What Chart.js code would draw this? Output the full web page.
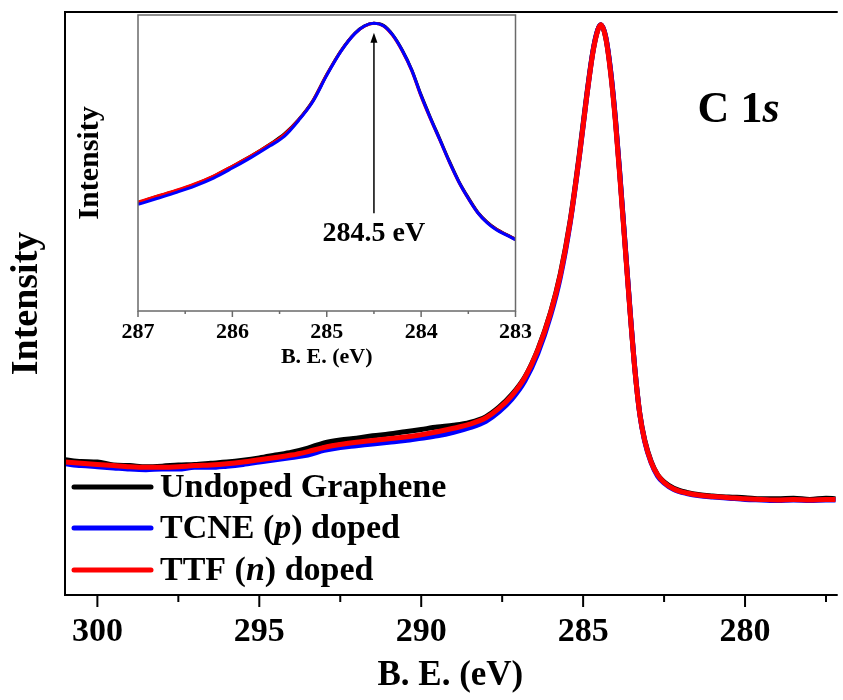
<!DOCTYPE html>
<html>
<head>
<meta charset="utf-8">
<script src="https://cdn.jsdelivr.net/npm/chart.js@4"></script>
<style>
  html, body { margin: 0; padding: 0; background: #fff; overflow: hidden; }
  #wrap { position: relative; width: 843px; height: 700px; }
  #mainChart { position: absolute; left: 0; top: 0; }
  #insetChart { position: absolute; left: 70px; top: 0; }
</style>
</head>
<body>
<div id="wrap">
  <canvas id="mainChart" width="843" height="700"></canvas>
  <canvas id="insetChart" width="470" height="375"></canvas>
</div>
<script>
// 主圖數據 (B. E. eV)
const beMain = [301.0, 300.5, 300.0, 299.5, 299.0, 298.5, 298.0, 297.5, 297.0, 296.5,
  296.0, 295.5, 295.0, 294.5, 294.0, 293.5, 293.0, 292.5, 292.0, 291.5,
  291.0, 290.5, 290.0, 289.5, 289.0, 288.5, 288.0, 287.6, 287.2, 286.8,
  286.4, 286.0, 285.7, 285.4, 285.1, 284.9, 284.7, 284.55, 284.45, 284.3,
  284.15, 284.0, 283.85, 283.7, 283.55, 283.4, 283.25, 283.1, 282.9, 282.7,
  282.5, 282.2, 281.8, 281.4, 281.0, 280.5, 280.0, 279.5, 279.0, 278.5,
  278.0, 277.5, 277.2];

const undopedMain = [23.2, 22.9, 22.8, 22.3, 22.2, 22.0, 22.1, 22.3, 22.4, 22.6,
  22.8, 23.1, 23.5, 24.0, 24.5, 25.2, 26.1, 26.6, 26.9, 27.3,
  27.6, 28.0, 28.4, 28.8, 29.1, 29.6, 30.6, 32.2, 34.4, 37.4,
  42.1, 48.6, 55.2, 64.2, 76.3, 85.3, 93.2, 96.9, 97.8, 95.6,
  89.8, 81.4, 70.9, 59.8, 48.7, 38.6, 31.1, 26.6, 22.9, 20.6,
  19.4, 18.3, 17.6, 17.2, 17.0, 16.8, 16.7, 16.5, 16.5, 16.6,
  16.4, 16.6, 16.5];

const tcneMain = [22.5, 22.2, 22.0, 21.8, 21.6, 21.5, 21.6, 21.6, 21.9, 21.9,
  22.1, 22.4, 22.8, 23.2, 23.6, 24.0, 24.8, 25.3, 25.6, 25.9,
  26.2, 26.5, 26.9, 27.3, 27.9, 28.7, 29.8, 31.4, 33.6, 36.7,
  41.4, 48.0, 54.6, 63.8, 75.9, 85.0, 93.1, 96.9, 97.8, 95.7,
  89.9, 81.5, 71.0, 59.9, 48.8, 38.7, 31.0, 26.4, 22.7, 20.4,
  19.2, 18.1, 17.4, 17.0, 16.8, 16.6, 16.4, 16.3, 16.2, 16.3,
  16.2, 16.3, 16.3];

const ttfMain = [22.8, 22.6, 22.4, 22.2, 22.0, 21.9, 21.9, 22.0, 22.2, 22.3,
  22.5, 22.8, 23.2, 23.6, 24.0, 24.6, 25.3, 25.8, 26.2, 26.5,
  26.8, 27.1, 27.5, 28.0, 28.6, 29.3, 30.4, 32.0, 34.2, 37.3,
  42.0, 48.5, 55.0, 64.0, 76.0, 85.0, 93.0, 96.8, 97.8, 95.5,
  89.5, 81.0, 70.5, 59.5, 48.5, 38.5, 31.0, 26.5, 22.8, 20.6,
  19.3, 18.2, 17.5, 17.1, 16.9, 16.7, 16.5, 16.4, 16.3, 16.4,
  16.3, 16.4, 16.4];

// 插圖數據
const beInset = [287.0, 286.8, 286.6, 286.4, 286.2, 286.0, 285.8, 285.6, 285.45, 285.3,
  285.15, 285.0, 284.85, 284.7, 284.6, 284.5, 284.4, 284.3, 284.2, 284.1,
  284.0, 283.9, 283.8, 283.7, 283.6, 283.5, 283.4, 283.3, 283.2, 283.1, 283.0];

const undopedInset = [36.6, 38.7, 40.6, 42.8, 45.5, 48.9, 52.4, 56.4, 59.8, 64.6,
  70.9, 79.9, 87.9, 93.9, 96.3, 97.2, 96.5, 93.3, 88.2, 81.6,
  73.0, 65.3, 58.0, 50.6, 43.8, 38.3, 33.4, 30.0, 27.6, 25.9, 24.3];

const ttfInset = [36.8, 38.8, 40.7, 42.9, 45.6, 48.9, 52.4, 56.3, 59.6, 64.5,
  70.8, 79.8, 87.8, 93.8, 96.2, 97.2, 96.3, 93.0, 87.8, 81.2,
  72.5, 64.8, 57.6, 50.2, 43.5, 38.0, 33.2, 29.9, 27.5, 25.8, 24.2];

const tcneInset = [36.0, 38.0, 40.0, 42.2, 44.9, 48.3, 51.9, 55.8, 59.0, 64.3,
  70.6, 79.6, 87.7, 93.8, 96.3, 97.2, 96.4, 93.2, 88.0, 81.4,
  72.7, 65.0, 57.7, 50.3, 43.6, 38.0, 33.2, 29.8, 27.4, 25.7, 24.1];

// 標註
const seriesLabels = ['Undoped Graphene', 'TCNE (p) doped', 'TTF (n) doped'];
const seriesColors = ['#000000', '#0000ff', '#ff0000'];
const peakBE = 284.5;
const peakArrow = [33, 94];     // 箭頭起止 (插圖 y 值)
const peakLabelY = 26;
const coreLabelPos = [280.2, 83];

const SERIF = "'Liberation Serif', 'Times New Roman', serif";
Chart.defaults.font.family = SERIF;
Chart.defaults.color = '#000';

function toPoints(xs, ys) {
    return xs.map((x, i) => ({ x: x, y: ys[i] }));
}

function isStep(v, step) {
    const r = v / step;
    return Math.abs(r - Math.round(r)) < 1e-6;
}

// 繪製帶斜體的文字, 例如 "(p)" 中的 p
function drawMixedText(ctx, text, x, y, size) {
    const parts = text.split(/(\([a-z]\))/).filter(p => p !== '');
    let cx = x;
    parts.forEach(p => {
        const m = p.match(/^\(([a-z])\)$/);
        if (m) {
            const seq = [['(', false], [m[1], true], [')', false]];
            seq.forEach(([s, it]) => {
                ctx.font = (it ? 'italic ' : '') + 'bold ' + size + 'px ' + SERIF;
                ctx.fillText(s, cx, y);
                cx += ctx.measureText(s).width;
            });
        } else {
            ctx.font = 'bold ' + size + 'px ' + SERIF;
            ctx.fillText(p, cx, y);
            cx += ctx.measureText(p).width;
        }
    });
}

// 主圖: 外框、刻度、圖例、標籤
const mainDecor = {
    id: 'mainDecor',
    afterDraw(chart) {
        const { ctx, chartArea: a, scales: { x, y } } = chart;
        ctx.save();
        ctx.strokeStyle = '#000';
        ctx.lineWidth = 2;
        ctx.beginPath();
        ctx.moveTo(a.right + 2, a.top);
        ctx.lineTo(a.left, a.top);
        ctx.lineTo(a.left, a.bottom);
        ctx.lineTo(a.right + 2, a.bottom);
        ctx.stroke();

        x.ticks.forEach(t => {
            const px = x.getPixelForValue(t.value);
            const len = isStep(t.value, 5) ? 12 : 7;
            ctx.beginPath();
            ctx.moveTo(px, a.bottom);
            ctx.lineTo(px, a.bottom + len);
            ctx.stroke();
        });

        // 圖例
        const rows = [108, 67, 25];
        ctx.textBaseline = 'middle';
        ctx.textAlign = 'left';
        seriesLabels.forEach((label, i) => {
            const yy = a.bottom - rows[i];
            ctx.strokeStyle = seriesColors[i];
            ctx.lineWidth = 5;
            ctx.lineCap = 'round';
            ctx.beginPath();
            ctx.moveTo(a.left + 9, yy);
            ctx.lineTo(a.left + 86, yy);
            ctx.stroke();
            ctx.fillStyle = '#000';
            drawMixedText(ctx, label, a.left + 95, yy + 1, 34);
        });

        // C 1s
        const cx = x.getPixelForValue(coreLabelPos[0]);
        const cy = y.getPixelForValue(coreLabelPos[1]);
        ctx.font = 'bold 44px ' + SERIF;
        const w1 = ctx.measureText('C 1').width;
        ctx.font = 'italic bold 44px ' + SERIF;
        const w2 = ctx.measureText('s').width;
        const sx = cx - (w1 + w2) / 2;
        ctx.font = 'bold 44px ' + SERIF;
        ctx.fillText('C 1', sx, cy);
        ctx.font = 'italic bold 44px ' + SERIF;
        ctx.fillText('s', sx + w1, cy);
        ctx.restore();
    }
};

// 插圖: 外框、刻度、箭頭
const insetDecor = {
    id: 'insetDecor',
    afterDraw(chart) {
        const { ctx, chartArea: a, scales: { x, y } } = chart;
        ctx.save();
        ctx.strokeStyle = '#6a6a6a';
        ctx.lineWidth = 1.5;
        ctx.strokeRect(a.left, a.top, a.right - a.left, a.bottom - a.top);
        x.ticks.forEach(t => {
            const px = x.getPixelForValue(t.value);
            const len = isStep(t.value, 1) ? 6 : 3;
            ctx.beginPath();
            ctx.moveTo(px, a.bottom);
            ctx.lineTo(px, a.bottom + len);
            ctx.stroke();
        });

        const ax = x.getPixelForValue(peakBE);
        const y0 = y.getPixelForValue(peakArrow[0]);
        const y1 = y.getPixelForValue(peakArrow[1]);
        ctx.strokeStyle = '#000';
        ctx.fillStyle = '#000';
        ctx.lineWidth = 1.5;
        ctx.beginPath();
        ctx.moveTo(ax, y0);
        ctx.lineTo(ax, y1 + 6);
        ctx.stroke();
        ctx.beginPath();
        ctx.moveTo(ax, y1);
        ctx.lineTo(ax - 3.5, y1 + 10);
        ctx.lineTo(ax + 3.5, y1 + 10);
        ctx.closePath();
        ctx.fill();

        ctx.font = 'bold 28px ' + SERIF;
        ctx.textAlign = 'center';
        ctx.textBaseline = 'middle';
        ctx.fillText(peakBE + ' eV', ax, y.getPixelForValue(peakLabelY));
        ctx.restore();
    }
};

function lineSet(label, pts, color, width) {
    return {
        label: label,
        data: pts,
        borderColor: color,
        backgroundColor: color,
        borderWidth: width,
        pointRadius: 0,
        cubicInterpolationMode: 'monotone',
        fill: false
    };
}

// Chart.js 先畫後面的數據集, 所以最上層的放第一個
new Chart(document.getElementById('mainChart').getContext('2d'), {
    type: 'line',
    data: {
        datasets: [
            lineSet(seriesLabels[2], toPoints(beMain, ttfMain), seriesColors[2], 5),
            lineSet(seriesLabels[1], toPoints(beMain, tcneMain), seriesColors[1], 5),
            lineSet(seriesLabels[0], toPoints(beMain, undopedMain), seriesColors[0], 5)
        ]
    },
    options: {
        responsive: false,
        animation: false,
        devicePixelRatio: 1,
        layout: { padding: { top: 12, left: 0, right: 0, bottom: 0 } },
        plugins: { legend: { display: false }, tooltip: { enabled: false } },
        scales: {
            x: {
                type: 'linear',
                reverse: true,
                min: 277.2,
                max: 301,
                grid: { display: false, drawTicks: false },
                border: { display: false },
                ticks: {
                    stepSize: 2.5,
                    includeBounds: false,
                    autoSkip: false,
                    maxRotation: 0,
                    padding: 17,
                    font: { size: 34, weight: 'bold' },
                    callback: v => (isStep(v, 5) ? String(v) : '')
                },
                title: {
                    display: true,
                    text: 'B. E. (eV)',
                    font: { size: 35, weight: 'bold' },
                    padding: { top: 0, bottom: 3 }
                },
                afterFit: s => { s.height = 105; }
            },
            y: {
                min: 0,
                max: 100,
                grid: { display: false },
                border: { display: false },
                ticks: { display: false },
                title: {
                    display: true,
                    text: 'Intensity',
                    font: { size: 38, weight: 'bold' },
                    padding: { top: 4, bottom: 0 }
                },
                afterFit: s => { s.width = 65; }
            }
        }
    },
    plugins: [mainDecor]
});

new Chart(document.getElementById('insetChart').getContext('2d'), {
    type: 'line',
    data: {
        datasets: [
            lineSet(seriesLabels[1], toPoints(beInset, tcneInset), seriesColors[1], 3),
            lineSet(seriesLabels[2], toPoints(beInset, ttfInset), seriesColors[2], 3),
            lineSet(seriesLabels[0], toPoints(beInset, undopedInset), seriesColors[0], 3)
        ]
    },
    options: {
        responsive: false,
        animation: false,
        devicePixelRatio: 1,
        layout: { padding: { top: 15, left: 0, right: 20, bottom: 0 } },
        plugins: { legend: { display: false }, tooltip: { enabled: false } },
        scales: {
            x: {
                type: 'linear',
                reverse: true,
                min: 283,
                max: 287,
                grid: { display: false, drawTicks: false },
                border: { display: false },
                ticks: {
                    stepSize: 0.5,
                    autoSkip: false,
                    maxRotation: 0,
                    padding: 8,
                    font: { size: 22, weight: 'bold' },
                    callback: v => (isStep(v, 1) ? String(v) : '')
                },
                title: {
                    display: true,
                    text: 'B. E. (eV)',
                    font: { size: 22, weight: 'bold' },
                    padding: { top: 0, bottom: 4 }
                },
                afterFit: s => { s.height = 64; }
            },
            y: {
                min: 0,
                max: 100,
                grid: { display: false },
                border: { display: false },
                ticks: { display: false },
                title: {
                    display: true,
                    text: 'Intensity',
                    font: { size: 30, weight: 'bold' },
                    padding: { top: 2, bottom: 0 }
                },
                afterFit: s => { s.width = 68; }
            }
        }
    },
    plugins: [insetDecor]
});
</script>
</body>
</html>
